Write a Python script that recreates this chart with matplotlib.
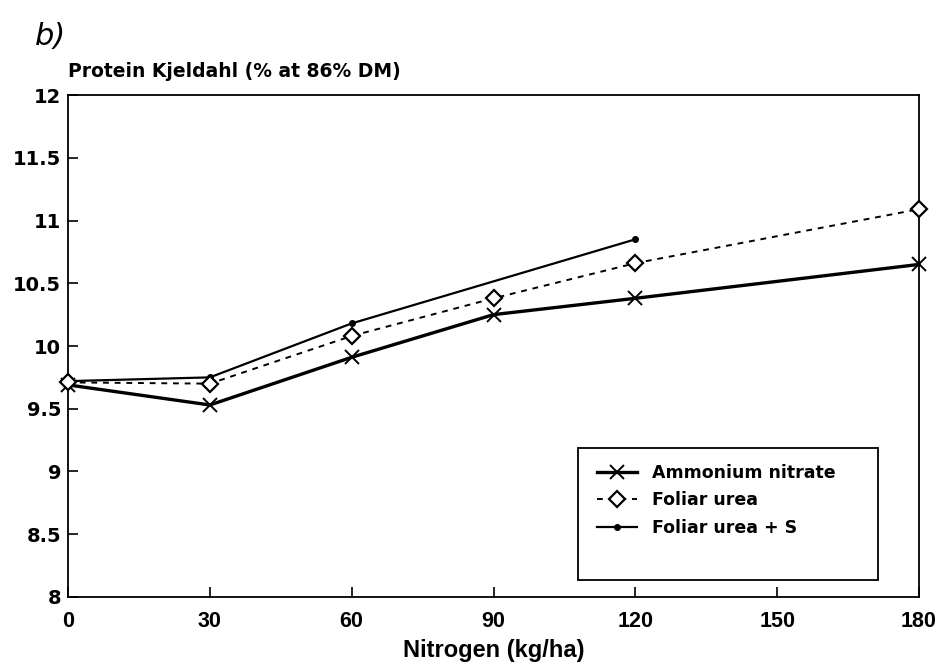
import matplotlib.pyplot as plt
from matplotlib.patches import Rectangle

plt.rcParams['font.family'] = ['DejaVu Sans']

# nitrogen rates (kg/ha) and protein content for each treatment
nitrogen = [0, 30, 60, 90, 120, 180]
ammonium_nitrate = [9.69, 9.53, 9.91, 10.25, 10.38, 10.65]
foliar_urea = [9.71, 9.70, 10.08, 10.38, 10.66, 11.09]
nitrogen_s = [0, 30, 60, 120]
foliar_urea_s = [9.72, 9.75, 10.18, 10.85]

x_ticks = [0, 30, 60, 90, 120, 150, 180]
y_ticks = [8, 8.5, 9, 9.5, 10, 10.5, 11, 11.5, 12]
y_tick_labels = ['8', '8.5', '9', '9.5', '10', '10.5', '11', '11.5', '12']

narrow = ['Liberation Sans', 'DejaVu Sans']

fig = plt.figure(figsize=(9.41, 6.71), dpi=100)
ax = fig.add_axes([0.0723, 0.1103, 0.9043, 0.7481])

ax.plot(nitrogen, ammonium_nitrate, color='black', lw=2.4, marker='x',
        ms=10, mew=1.4, label='Ammonium nitrate', clip_on=False, zorder=3)
ax.plot(nitrogen, foliar_urea, color='black', lw=1.4, ls=(0, (3, 3)),
        marker='D', ms=8.5, mew=1.6, mfc='white', label='Foliar urea',
        clip_on=False, zorder=4)
ax.plot(nitrogen_s, foliar_urea_s, color='black', lw=1.6, marker='o',
        ms=4, label='Foliar urea + S', clip_on=False, zorder=3)

ax.set_xlim(0, 180)
ax.set_ylim(8, 12)
ax.set_xticks(x_ticks)
ax.set_yticks(y_ticks)
ax.set_yticklabels(y_tick_labels, fontsize=14, fontweight='bold')
ax.set_xticklabels([str(v) for v in x_ticks], fontsize=15.5,
                   fontweight='bold', family=narrow)
ax.tick_params(direction='in', length=7, width=1.2, color='black', pad=5)
ax.tick_params(axis='x', pad=10)
for sp in ax.spines.values():
    sp.set_linewidth(1.3)

ax.set_xlabel('Nitrogen (kg/ha)', fontsize=17, fontweight='bold',
              family=narrow, labelpad=5)
fig.text(0.0723, 0.88, 'Protein Kjeldahl (% at 86% DM)', fontsize=13.5,
         fontweight='bold', ha='left', va='bottom')
fig.text(0.037, 0.945, 'b)', fontsize=22, style='italic', ha='left',
         va='center')

# legend frame drawn separately so the box can be taller than its entries
ax.add_patch(Rectangle((0.599, 0.034), 0.353, 0.263, transform=ax.transAxes,
                       fill=False, lw=1.3, ec='black', zorder=5))
leg = ax.legend(loc='upper left', bbox_to_anchor=(0.605, 0.293),
                frameon=False, handlelength=2.3, handletextpad=0.9,
                labelspacing=0.55, borderpad=0.3,
                prop={'weight': 'bold', 'size': 12.5})

fig.savefig('out.png', dpi=100)
